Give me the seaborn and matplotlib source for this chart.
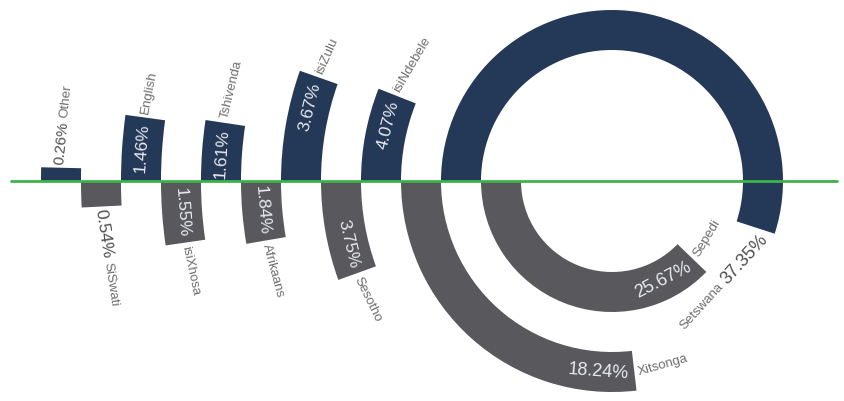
import numpy as np
import matplotlib
matplotlib.use("Agg")
import matplotlib.pyplot as plt
from matplotlib.patches import Wedge
import seaborn as sns

# -----------------------------
# Data (rings from outermost to innermost)
# -----------------------------
languages = ["Other", "SiSwati", "English", "isiXhosa", "Tshivenda", "Afrikaans",
             "isiZulu", "Sesotho", "isiNdebele", "Xitsonga", "Setswana", "Sepedi"]
shares = [0.26, 0.54, 1.46, 1.55, 1.61, 1.84, 3.67, 3.75, 4.07, 18.24, 37.35, 25.67]
sides = ["top", "bottom"] * 6
pct_outside = ["Other", "SiSwati", "Setswana"]

# -----------------------------
# Layout / style
# -----------------------------
W, H = 845, 401
CX, CY = 612, 220          # common centre of all rings (pixels, y up)
R0, BAND = 571, 40         # outer radius of first ring, ring thickness
DEG_PER_PCT = 5.3          # sweep angle per percentage point

NAVY = "#243858"
GREY = "#59595d"
GREEN = "#3cb44b"
TXT_IN = "#e8ebf0"
TXT_OUT = "#4f4f4f"
TXT_NAME = "#6e6e6e"
PCT_SIZE = 12.5
BIG_PCT_SIZE = 13
NAME_SIZE = 9.5

sns.set_theme(style="white")
FONT = ["Liberation Sans Narrow", "Liberation Sans", "DejaVu Sans"]
plt.rcParams["font.family"] = FONT

fig = plt.figure(figsize=(W / 100, H / 100), dpi=100)
ax = fig.add_axes([0, 0, 1, 1])
ax.set_xlim(0, W)
ax.set_ylim(0, H)
ax.axis("off")

fig.canvas.draw()
renderer = fig.canvas.get_renderer()


def text_len(s, size):
    t = ax.text(0, 0, s, fontsize=size)
    w = t.get_window_extent(renderer).width
    t.remove()
    return w


def arc_point(r, ang):
    a = np.deg2rad(ang)
    return CX + r * np.cos(a), CY + r * np.sin(a)


def upright(a):
    a = (a + 180) % 360 - 180
    if a > 90:
        a -= 180
    elif a <= -90:
        a += 180
    return a


for i, (lang, pct, side) in enumerate(zip(languages, shares, sides)):
    r_out = R0 - i * BAND
    r_mid = r_out - BAND / 2
    sweep = pct * DEG_PER_PCT
    sign = -1 if side == "top" else 1      # top: clockwise, bottom: counter-clockwise
    t_end = 180 + sign * sweep
    color = NAVY if side == "top" else GREY
    t1, t2 = (t_end, 180) if side == "top" else (180, t_end)
    ax.add_patch(Wedge((CX, CY), r_out, t1, t2, width=BAND, facecolor=color,
                       edgecolor="none", zorder=2))

    pct_txt = f"{pct:.2f}%"
    psize = BIG_PCT_SIZE if pct > 10 else PCT_SIZE
    if lang == "Other":
        psize = 11
    lp = text_len(pct_txt, psize)
    ln = text_len(lang, NAME_SIZE)
    gap = 4

    if lang in pct_outside:
        # percentage + name in one straight run past the end of the arc
        total = lp + gap + ln
        phi = t_end + sign * np.rad2deg((3 + total / 2) / r_mid)
        tau = phi + sign * 90
        ux, uy = np.cos(np.deg2rad(tau)), np.sin(np.deg2rad(tau))
        px, py = arc_point(r_mid, phi)
        rot = upright(tau)
        d_p = -total / 2 + lp / 2
        d_n = -total / 2 + lp + gap + ln / 2
        ax.text(px + ux * d_p, py + uy * d_p, pct_txt, fontsize=psize, color=TXT_OUT,
                rotation=rot, rotation_mode="anchor", ha="center", va="center", zorder=4)
        ax.text(px + ux * d_n, py + uy * d_n, lang, fontsize=NAME_SIZE, color=TXT_NAME,
                rotation=rot, rotation_mode="anchor", ha="center", va="center", zorder=4)
    else:
        phi = t_end - sign * np.rad2deg((6 + lp / 2) / r_mid)
        x, y = arc_point(r_mid, phi)
        ax.text(x, y, pct_txt, fontsize=psize, color=TXT_IN,
                rotation=upright(phi + sign * 90), rotation_mode="anchor",
                ha="center", va="center", zorder=4)
        phi = t_end + sign * np.rad2deg((gap + ln / 2) / r_mid)
        x, y = arc_point(r_mid, phi)
        ax.text(x, y, lang, fontsize=NAME_SIZE, color=TXT_NAME,
                rotation=upright(phi + sign * 90), rotation_mode="anchor",
                ha="center", va="center", zorder=4)

ax.hlines(CY, 10, 838, color=GREEN, linewidth=2, zorder=5)

fig.savefig("out.png", dpi=100)
